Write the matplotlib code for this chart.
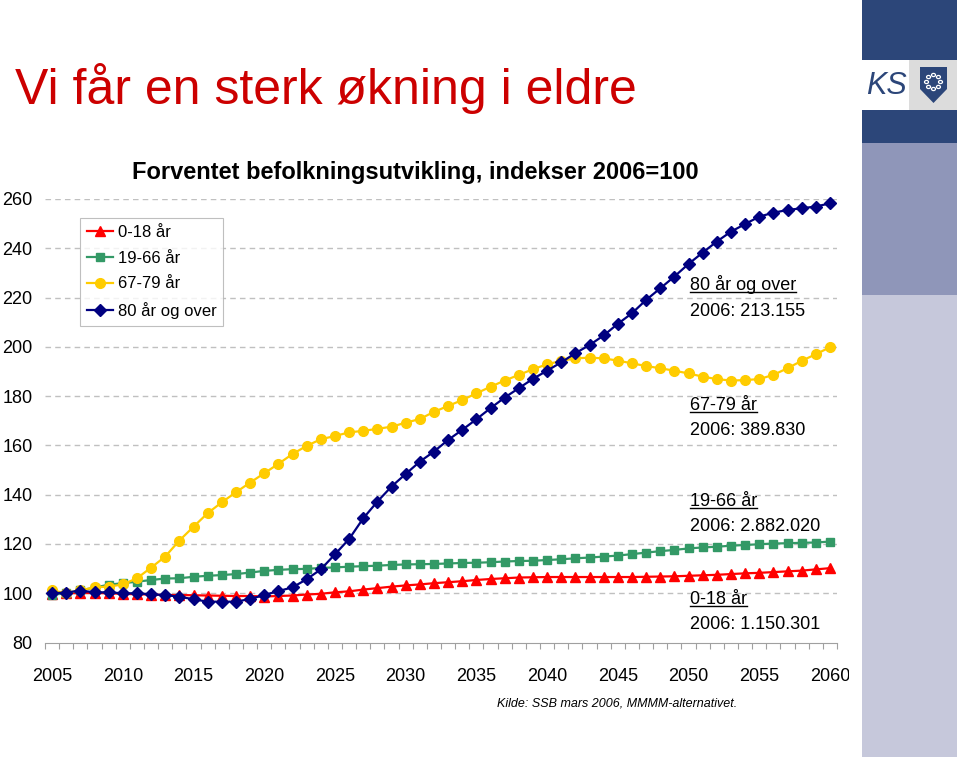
import numpy as np
import matplotlib
matplotlib.use("Agg")
import matplotlib.pyplot as plt
from matplotlib.lines import Line2D
from matplotlib.patches import Rectangle, Polygon, Circle
from matplotlib.transforms import Bbox, TransformedBbox

plt.rcParams['font.family'] = ['Liberation Sans', 'DejaVu Sans']

years = np.arange(2005, 2061)

# 0-18 aar
barn = [99.7, 100.0, 100.1, 100.1, 100.0, 99.8, 99.6, 99.5, 99.3, 99.3,
        99.2, 99.1, 99.0, 98.9, 98.9, 98.7, 98.9, 99.1, 99.5, 99.8,
        100.4, 100.8, 101.5, 102.1, 102.7, 103.2, 103.6, 104.1, 104.5, 104.9,
        105.4, 105.8, 106.1, 106.4, 106.5, 106.6, 106.6, 106.6, 106.6, 106.6,
        106.6, 106.6, 106.7, 106.8, 106.9, 107.1, 107.3, 107.5, 107.8, 108.1,
        108.3, 108.6, 108.9, 109.2, 109.7, 110.2]
# 19-66 aar
voksne = [99.4, 100.0, 101.2, 102.3, 103.5, 104.1, 104.7, 105.4, 106.0, 106.1,
          106.7, 107.1, 107.4, 107.8, 108.4, 109.1, 109.5, 109.8, 109.9, 110.3,
          110.5, 110.8, 111.0, 111.2, 111.5, 111.7, 111.8, 111.9, 112.1, 112.3,
          112.4, 112.6, 112.9, 113.1, 113.2, 113.5, 113.8, 114.2, 114.5, 114.9,
          115.3, 115.9, 116.5, 117.1, 117.6, 118.2, 118.6, 118.9, 119.3, 119.6,
          119.9, 120.2, 120.3, 120.5, 120.6, 121.0]
# 67-79 aar
eldre = [101.2, 100.0, 101.2, 102.4, 102.7, 103.6, 106.1, 110.4, 114.9, 121.4,
         127.0, 132.5, 136.9, 141.0, 144.9, 148.7, 152.5, 156.5, 159.8, 162.5,
         163.8, 165.3, 165.9, 166.7, 167.6, 169.2, 170.7, 173.6, 176.0, 178.4,
         181.1, 183.8, 186.3, 188.6, 190.9, 192.9, 194.3, 195.3, 195.6, 195.3,
         194.4, 193.3, 192.2, 191.3, 190.3, 189.2, 187.9, 186.9, 186.3, 186.5,
         186.9, 188.6, 191.3, 194.3, 197.0, 199.8]
# 80 aar og over
eldst = [100.0, 100.3, 101.1, 100.4, 100.4, 100.0, 100.0, 99.6, 99.3, 98.6,
         97.6, 96.6, 96.6, 96.6, 97.7, 99.3, 100.9, 102.4, 105.7, 109.7,
         115.8, 122.0, 130.4, 137.2, 143.3, 148.4, 153.4, 157.5, 162.2, 166.3,
         170.6, 175.1, 179.4, 183.2, 187.0, 190.3, 193.7, 197.4, 200.7, 204.6,
         209.3, 213.6, 219.0, 223.7, 228.5, 233.6, 238.2, 242.7, 246.7, 249.8,
         252.8, 254.4, 255.5, 256.2, 256.9, 258.2]

labels = ['0-18 år', '19-66 år', '67-79 år', '80 år og over']
notes = ['2006: 1.150.301', '2006: 2.882.020', '2006: 389.830', '2006: 213.155']

W, H = 960, 757
fig = plt.figure(figsize=(W / 100, H / 100), dpi=100)

def fx(px):
    return px / W

def fy(py):
    return 1 - py / H

# right side band
band_x = fx(862)
band_w = fx(957) - band_x
for top, bot, col in [(0, 60, '#2c4679'), (110, 143, '#2c4679'),
                      (143, 295, '#8f96b9'), (295, 757, '#c6c8db')]:
    fig.add_artist(Rectangle((band_x, fy(bot)), band_w, fy(top) - fy(bot),
                             transform=fig.transFigure, color=col, lw=0))
fig.add_artist(Rectangle((fx(909), fy(110)), fx(957) - fx(909), fy(60) - fy(110),
                         transform=fig.transFigure, color='#dcdcdc', lw=0))
fig.text(fx(886), fy(86), 'KS', fontsize=22, style='italic', color='#2c4679',
         ha='center', va='center')
shield = [(920, 67), (947, 67), (947, 89), (933.5, 103), (920, 89)]
fig.add_artist(Polygon([(fx(a), fy(b)) for a, b in shield], closed=True,
                       transform=fig.transFigure, color='#2c4679', lw=0))
for ang in np.linspace(0, 2 * np.pi, 9)[:-1]:
    cx = 933.5 + 7 * np.cos(ang)
    cy = 82 + 7 * np.sin(ang)
    fig.add_artist(Circle((fx(cx), fy(cy)), 2.0 / W, transform=fig.transFigure,
                          facecolor='#2c4679', edgecolor='white', lw=0.9))

# titles
fig.text(fx(15), fy(104), 'Vi får en sterk økning i eldre', fontsize=36,
         color='#cc0000', ha='left', va='baseline')
fig.text(fx(415), fy(172), 'Forventet befolkningsutvikling, indekser 2006=100',
         fontsize=17, fontweight='bold', ha='center', va='center')

ax = fig.add_axes([fx(45), fy(642.6), fx(837) - fx(45), fy(198.9) - fy(642.6)])

styles = [('#ff0000', '^', 7.5), ('#339966', 's', 5.5),
          ('#ffcc00', 'o', 7), ('#000080', 'D', 6)]
for serie, lab, (col, mk, ms) in zip([barn, voksne, eldre, eldst], labels, styles):
    ax.plot(years, serie, color=col, lw=1.6, marker=mk, ms=ms,
            mec=col, mfc=col, label=lab, clip_on=False)

ax.set_xlim(2004.5, 2060.5)
ax.set_ylim(80, 260)
ax.set_yticks(range(80, 261, 20))
ax.set_xticks(range(2005, 2061, 5))
ax.set_xticks(np.arange(2004.5, 2061, 1), minor=True)
ax.tick_params(axis='x', which='major', length=0, pad=18, labelsize=13)
ax.tick_params(axis='x', which='minor', length=4, color='#a0a0a0', width=0.8)
ax.tick_params(axis='y', length=0, pad=9, labelsize=13)
for v in range(100, 261, 20):
    ax.axhline(v, color='#c0c0c0', lw=1, ls=(0, (4, 3)), zorder=0)
for s in ['top', 'right', 'left']:
    ax.spines[s].set_visible(False)
ax.spines['bottom'].set_color('#a0a0a0')
ax.spines['bottom'].set_linewidth(0.8)

clip = TransformedBbox(Bbox.from_extents(0, 0, fx(849), 1), fig.transFigure)
for t in ax.get_xticklabels():
    t.set_clip_box(clip)
    t.set_clip_on(True)

leg = ax.legend(loc='upper left', bbox_to_anchor=(fx(80), fy(218)),
                bbox_transform=fig.transFigure, fontsize=12, frameon=True,
                fancybox=False, edgecolor='#b0b0b0', handlelength=1.6,
                handletextpad=0.25, borderpad=0.4, labelspacing=0.65,
                borderaxespad=0)
leg.get_frame().set_linewidth(0.8)

# right hand notes, underlined name
note_pos = [(604, 629), (506, 531), (410, 435), (290, 316)]
fig.canvas.draw()
renderer = fig.canvas.get_renderer()
inv = fig.transFigure.inverted()
for lab, note, (y1, y2) in zip(labels, notes, note_pos):
    t = fig.text(fx(690), fy(y1), lab, fontsize=13, ha='left', va='baseline')
    fig.text(fx(690), fy(y2), note, fontsize=13, ha='left', va='baseline')
    bb = t.get_window_extent(renderer)
    x0 = inv.transform((bb.x0, 0))[0]
    x1 = inv.transform((bb.x1, 0))[0]
    fig.add_artist(Line2D([x0, x1], [fy(y1 + 2), fy(y1 + 2)],
                          transform=fig.transFigure, color='black', lw=1))

fig.text(fx(617), fy(703), 'Kilde: SSB mars 2006, MMMM-alternativet.',
         fontsize=9, style='italic', ha='center', va='center')

fig.savefig('out.png', dpi=100)
